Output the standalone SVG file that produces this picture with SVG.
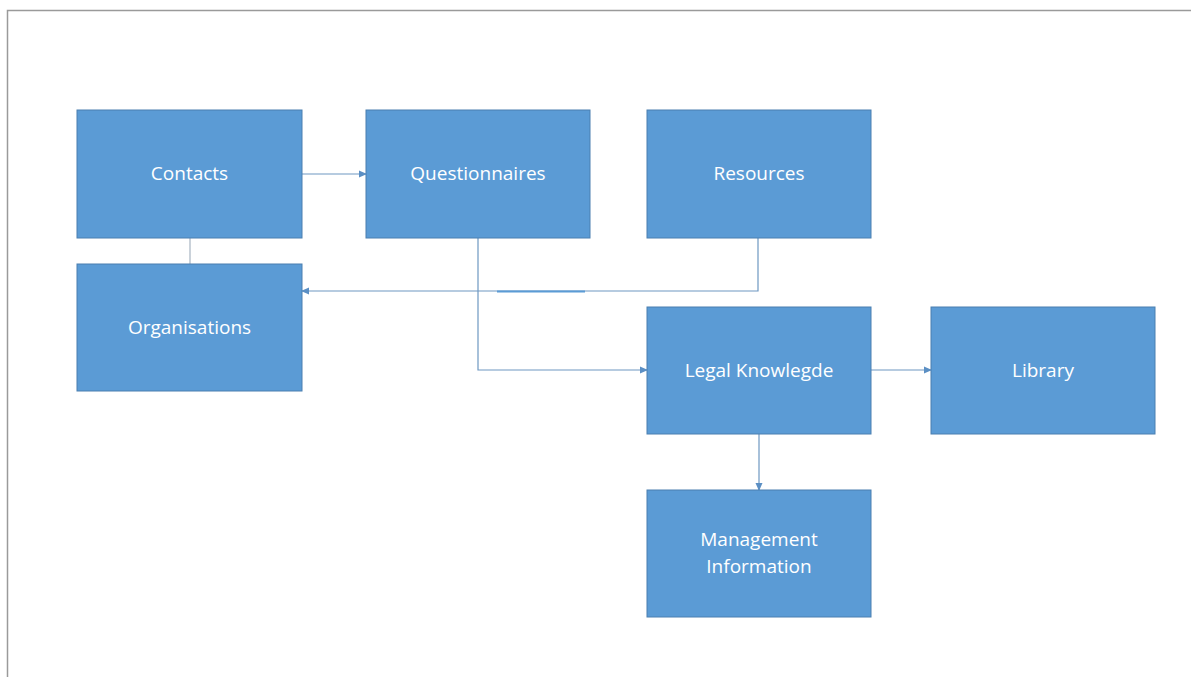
<svg xmlns="http://www.w3.org/2000/svg" width="1191" height="677" viewBox="0 0 1191 677">
<defs>
<marker id="arr" markerWidth="8" markerHeight="8" refX="7" refY="4" orient="auto" markerUnits="userSpaceOnUse">
<path d="M0,0.5 L8,4 L0,7.5 Z" fill="#5B8FC4"/>
</marker>
<style>
.box{fill:#5B9BD5;stroke:#4A7FB0;stroke-width:1}
.lbl{fill:#ffffff;font-family:"Open Sans","Noto Sans","Liberation Sans",sans-serif;font-size:19px;text-anchor:middle;dominant-baseline:central}
.con{fill:none;stroke:#6E98C2;stroke-width:1.2}
</style>
</defs>
<rect x="0" y="0" width="1191" height="677" fill="#ffffff"/>
<path d="M7.5,677 L7.5,10.5 L1191,10.5" fill="none" stroke="#9a9a9a" stroke-width="1.5"/>
<g id="connectors">
<line class="con" x1="302" y1="174" x2="366" y2="174" marker-end="url(#arr)"/>
<line x1="190" y1="238" x2="190" y2="264" stroke="#A7B4C2" stroke-width="1.2"/>
<polyline class="con" points="758,238 758,291 302,291" marker-end="url(#arr)"/>
<line x1="497" y1="291.5" x2="585" y2="291.5" stroke="#5B9BD5" stroke-width="2"/>
<polyline class="con" points="478,238 478,370 647,370" marker-end="url(#arr)"/>
<line class="con" x1="871" y1="370" x2="931" y2="370" marker-end="url(#arr)"/>
<line class="con" x1="759" y1="434" x2="759" y2="490" marker-end="url(#arr)"/>
</g>
<g id="contacts"><rect class="box" x="77" y="110" width="225" height="128"/><text class="lbl" x="189.5" y="173">Contacts</text></g>
<g id="questionnaires"><rect class="box" x="366" y="110" width="224" height="128"/><text class="lbl" x="478" y="173">Questionnaires</text></g>
<g id="resources"><rect class="box" x="647" y="110" width="224" height="128"/><text class="lbl" x="759" y="173">Resources</text></g>
<g id="organisations"><rect class="box" x="77" y="264" width="225" height="127"/><text class="lbl" x="189.5" y="327">Organisations</text></g>
<g id="legal"><rect class="box" x="647" y="307" width="224" height="127"/><text class="lbl" x="759" y="370">Legal Knowlegde</text></g>
<g id="library"><rect class="box" x="931" y="307" width="224" height="127"/><text class="lbl" x="1043" y="370">Library</text></g>
<g id="management"><rect class="box" x="647" y="490" width="224" height="127"/><text class="lbl" x="759" y="539">Management</text><text class="lbl" x="759" y="566">Information</text></g>
</svg>
